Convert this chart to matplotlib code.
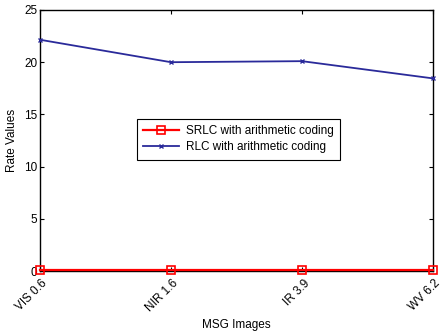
import matplotlib
matplotlib.use("Agg")
import matplotlib.pyplot as plt
from matplotlib.transforms import ScaledTranslation

plt.rcParams['font.family'] = ['Liberation Sans', 'DejaVu Sans']

images = ["VIS 0.6", "NIR 1.6", "IR 3.9", "WV 6.2"]
srlc_arith = [0.1, 0.1, 0.1, 0.1]
rlc_arith = [22.15, 20.0, 20.1, 18.45]

fig = plt.figure(figsize=(4.42, 3.33), dpi=100)
ax = fig.add_axes([0.0905, 0.186, 0.889, 0.784])

x = list(range(len(images)))
ax.plot(x, srlc_arith, color='#ff0000', marker='s', markersize=5.5,
        markerfacecolor='none', markeredgecolor='#ff0000', markeredgewidth=1.2,
        linewidth=1.6, label='SRLC with arithmetic coding', clip_on=False, zorder=3)
ax.plot(x, rlc_arith, color='#2a2a9a', marker='x', markersize=3.5,
        linewidth=1.3, label='RLC with arithmetic coding', clip_on=False, zorder=3)

ax.set_xlim(0, 3)
ax.set_ylim(0, 25)
ax.set_yticks([0, 5, 10, 15, 20, 25])
ax.set_xticks(x)
ax.set_xticklabels([])

# rotated category labels, nudged right/down of each tick
offset = ScaledTranslation(1.0 / 72, -4.5 / 72, fig.dpi_scale_trans)
for xi, name in zip(x, images):
    ax.text(xi, 0, name, transform=ax.get_xaxis_transform() + offset,
            rotation=45, ha='right', va='top', rotation_mode='anchor',
            fontsize=8.5, clip_on=False)

ax.tick_params(direction='in', length=3, width=0.8, labelsize=8.5,
               top=True, right=True, pad=2)
for s in ax.spines.values():
    s.set_linewidth(1.0)
ax.set_xlabel('MSG Images', fontsize=8.5)
ax.xaxis.set_label_coords(0.5, -0.185)
ax.set_ylabel('Rate Values', fontsize=8.5)

leg = ax.legend(loc='center', bbox_to_anchor=(0.505, 0.505), fontsize=8.5,
                fancybox=False, edgecolor='black', framealpha=1,
                handlelength=3.0, borderpad=0.55, labelspacing=0.35,
                handletextpad=0.6)
leg.get_frame().set_linewidth(0.8)

fig.savefig('out.png', dpi=100)
